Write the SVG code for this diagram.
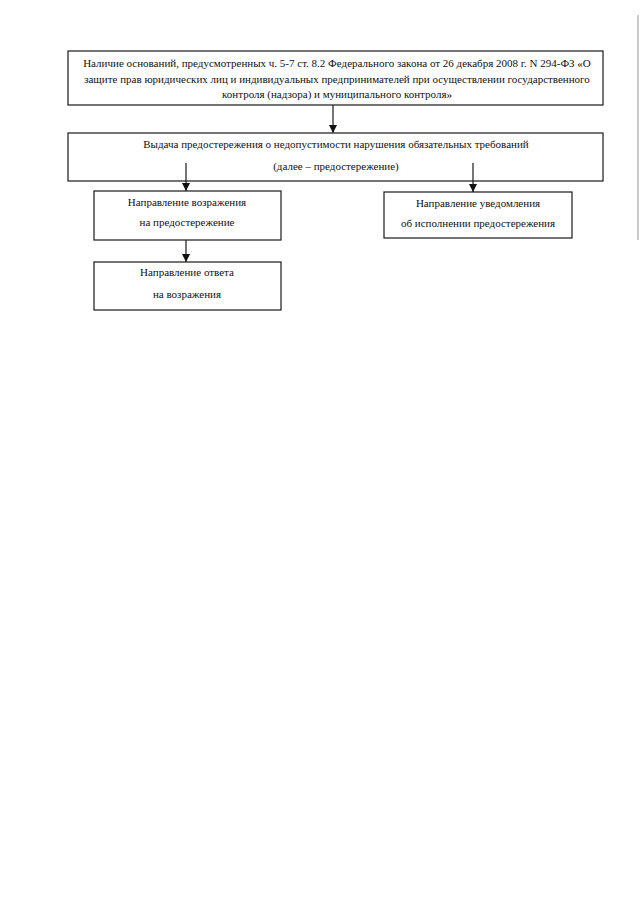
<svg xmlns="http://www.w3.org/2000/svg" width="640" height="905" viewBox="0 0 640 905">
<style>
.box{fill:#fff;stroke:#1a1a1a;stroke-width:1.2}
.t{font-family:"Liberation Serif","Times New Roman",serif;font-size:11px;fill:#111;text-anchor:middle}
.c{stroke:#1a1a1a;stroke-width:1.2;fill:none}
</style>
<defs>
<marker id="ah" viewBox="0 0 8 8" refX="8" refY="4" markerWidth="8" markerHeight="8" markerUnits="userSpaceOnUse" orient="auto">
<path d="M0,0 L8,4 L0,8 z" fill="#111"/>
</marker>
</defs>
<rect width="640" height="905" fill="#fff"/>
<g id="n1">
<rect class="box" x="68" y="51" width="535" height="54"/>
<text class="t" x="337" y="67">Наличие оснований, предусмотренных ч. 5-7 ст. 8.2 Федерального закона от 26 декабря 2008 г. N 294-ФЗ «О</text>
<text class="t" x="337" y="83">защите прав юридических лиц и индивидуальных предпринимателей при осуществлении государственного</text>
<text class="t" x="337" y="98">контроля (надзора) и муниципального контроля»</text>
</g>
<g id="n2">
<rect class="box" x="68" y="133" width="535" height="48"/>
<text class="t" x="336" y="148">Выдача предостережения о недопустимости нарушения обязательных требований</text>
<text class="t" x="336" y="170">(далее – предостережение)</text>
</g>
<g id="n3">
<rect class="box" x="94" y="191" width="187" height="49"/>
<text class="t" x="187" y="206">Направление возражения</text>
<text class="t" x="187" y="226">на предостережение</text>
</g>
<g id="n4">
<rect class="box" x="384" y="192" width="188" height="46"/>
<text class="t" x="478" y="207">Направление уведомления</text>
<text class="t" x="478" y="227">об исполнении предостережения</text>
</g>
<g id="n5">
<rect class="box" x="94" y="262" width="187" height="48"/>
<text class="t" x="187" y="276">Направление ответа</text>
<text class="t" x="187" y="298">на возражения</text>
</g>
<g id="connectors">
<line class="c" x1="333" y1="105" x2="333" y2="133" marker-end="url(#ah)"/>
<line class="c" x1="186" y1="163" x2="186" y2="191" marker-end="url(#ah)"/>
<line class="c" x1="473" y1="163" x2="473" y2="192" marker-end="url(#ah)"/>
<line class="c" x1="186" y1="240" x2="186" y2="262" marker-end="url(#ah)"/>
</g>
<line x1="638" y1="15" x2="638" y2="240" stroke="#999" stroke-width="1"/>
</svg>
